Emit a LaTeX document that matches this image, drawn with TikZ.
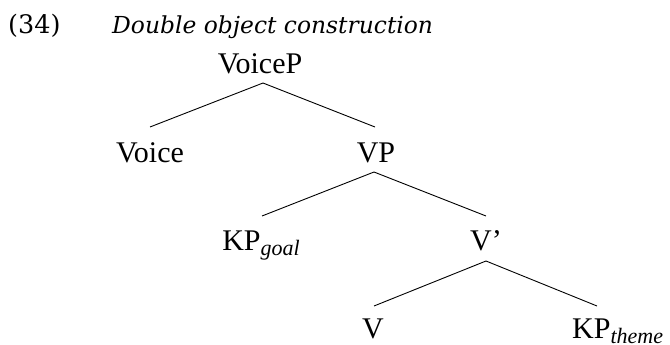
\documentclass[tikz,border=0pt]{standalone}
\usepackage{fontspec}
\setmainfont{Liberation Serif}[ItalicFont={Liberation Serif Italic}]
\newfontfamily\hdfont{DejaVu Serif}
\begin{document}
\begin{tikzpicture}[x=1pt,y=-1pt,
  hd/.style={font=\hdfont\fontsize{23.4}{24}\selectfont, inner sep=0pt, anchor=base west},
  tnode/.style={font=\fontsize{30}{30}\selectfont, inner sep=0pt, anchor=base},
  branch/.style={line width=0.9pt}]
\newcommand{\sbs}[1]{\raisebox{-5.5pt}{\fontsize{22}{22}\selectfont\itshape #1}}
\useasboundingbox (0,0) rectangle (670,345);
\node[hd, font=\hdfont\fontsize{25.5}{26}\selectfont] (num) at (8,34) {(34)};
\node[hd] (title) at (112,34) {\itshape Double object construction};
\node[tnode] (voicep) at (260,74) {VoiceP};
\node[tnode] (voice) at (150,162) {Voice};
\node[tnode] (vp) at (376,162) {VP};
\node[tnode] (kpg) at (261,250) {KP\sbs{goal}};
\node[tnode] (vbar) at (486,250) {V’};
\node[tnode] (v) at (373,338) {V};
\node[tnode, anchor=base west] (kpt) at (572,338) {KP\sbs{theme}};
\draw[branch] ([shift={(3pt,-9pt)}]voicep.base) -- ([yshift=35pt]voice.base);
\draw[branch] ([shift={(3pt,-9pt)}]voicep.base) -- ([shift={(-1pt,35pt)}]vp.base);
\draw[branch] ([shift={(-2pt,-10pt)}]vp.base) -- ([shift={(1pt,34pt)}]kpg.base);
\draw[branch] ([shift={(-2pt,-10pt)}]vp.base) -- ([yshift=34pt]vbar.base);
\draw[branch] ([yshift=-11pt]vbar.base) -- ([shift={(1pt,32pt)}]v.base);
\draw[branch] ([yshift=-11pt]vbar.base) -- ([shift={(25pt,32pt)}]kpt.base west);
\end{tikzpicture}
\end{document}
